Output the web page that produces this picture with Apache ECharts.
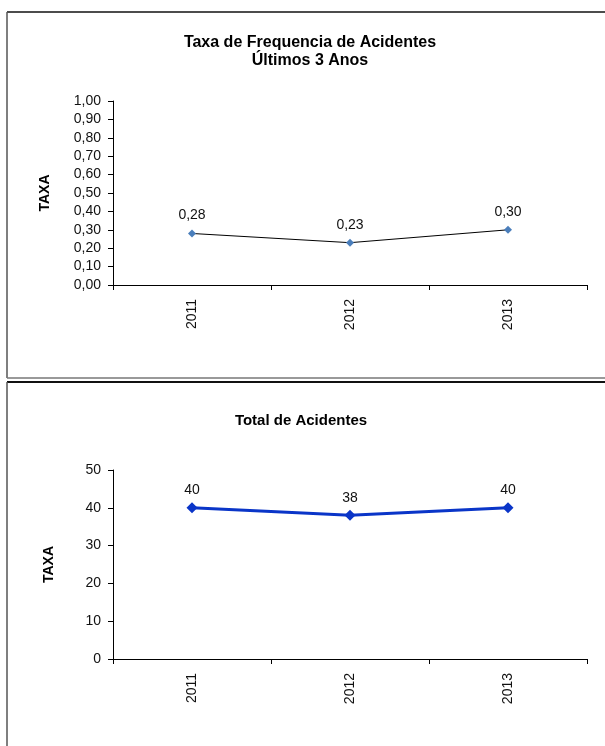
<!DOCTYPE html>
<html>
<head>
<meta charset="utf-8">
<script src="https://cdn.jsdelivr.net/npm/echarts@6/dist/echarts.min.js"></script>
<style>
  html, body { margin: 0; padding: 0; background: #fff; }
  #chart { width: 605px; height: 746px; }
</style>
</head>
<body>
<div id="chart"></div>
<script>
// Accident statistics for the last three years
const years = ['2011', '2012', '2013'];
const taxaFrequencia = [0.28, 0.23, 0.30];
const totalAcidentes = [40, 38, 40];
const taxaTicks = { min: 0, max: 1, interval: 0.1 };
const totalTicks = { min: 0, max: 50, interval: 10 };

const FONT = '"Liberation Sans", Arial, sans-serif';
const comma = v => v.toFixed(2).replace('.', ',');

const chart = echarts.init(document.getElementById('chart'), null, { renderer: 'canvas' });

const axisLine = { show: true, lineStyle: { color: '#000', width: 1 } };
const axisTick = { show: true, length: 5, lineStyle: { color: '#000', width: 1 } };

function catAxis(gridIndex) {
  return {
    type: 'category', gridIndex, data: years, boundaryGap: true,
    axisLine, axisTick,
    axisLabel: { rotate: 90, margin: 14, fontFamily: FONT, fontSize: 14, color: '#111' },
    splitLine: { show: false }
  };
}

function valAxis(gridIndex, ticks, fmt, gap) {
  return {
    type: 'value', gridIndex, min: ticks.min, max: ticks.max, interval: ticks.interval,
    axisLine, axisTick,
    axisLabel: { margin: 12, fontFamily: FONT, fontSize: 14, color: '#111', formatter: fmt },
    splitLine: { show: false },
    name: 'TAXA', nameLocation: 'middle', nameRotate: 90, nameGap: gap,
    nameTextStyle: { fontFamily: FONT, fontSize: 14, fontWeight: 'bold', color: '#000' }
  };
}

chart.setOption({
  animation: false,
  backgroundColor: '#fff',
  grid: [
    { left: 113, top: 101, width: 474, height: 184 },
    { left: 113, top: 470, width: 474, height: 189 }
  ],
  xAxis: [catAxis(0), catAxis(1)],
  yAxis: [
    valAxis(0, taxaTicks, v => comma(v), 61),
    valAxis(1, totalTicks, v => String(v), 57)
  ],
  series: [
    {
      type: 'line', xAxisIndex: 0, yAxisIndex: 0, data: taxaFrequencia,
      symbol: 'diamond', symbolSize: 8,
      lineStyle: { color: '#000', width: 1 },
      itemStyle: { color: '#4A7EBB' },
      label: { show: true, position: 'top', distance: 7, fontFamily: FONT, fontSize: 14,
               color: '#111', formatter: p => comma(p.value) }
    },
    {
      type: 'line', xAxisIndex: 1, yAxisIndex: 1, data: totalAcidentes,
      symbol: 'diamond', symbolSize: 11,
      lineStyle: { color: '#0A35C8', width: 3 },
      itemStyle: { color: '#0A35C8' },
      label: { show: true, position: 'top', distance: 5, fontFamily: FONT, fontSize: 14,
               color: '#111' }
    }
  ],
  graphic: [
    // panel frames
    { type: 'line', shape: { x1: 7, y1: 12, x2: 605, y2: 12 }, style: { stroke: '#111', lineWidth: 1.5 } },
    { type: 'line', shape: { x1: 7, y1: 12, x2: 7, y2: 378 }, style: { stroke: '#555', lineWidth: 1.5 } },
    { type: 'line', shape: { x1: 7, y1: 378, x2: 605, y2: 378 }, style: { stroke: '#777', lineWidth: 1.5 } },
    { type: 'line', shape: { x1: 7, y1: 382, x2: 605, y2: 382 }, style: { stroke: '#111', lineWidth: 2 } },
    { type: 'line', shape: { x1: 7, y1: 382, x2: 7, y2: 746 }, style: { stroke: '#555', lineWidth: 1.5 } },
    // chart titles
    { type: 'text', x: 310, y: 34, style: {
        text: 'Taxa de Frequencia de Acidentes\nÚltimos 3 Anos', textAlign: 'center', textVerticalAlign: 'top',
        font: 'bold 16px ' + FONT, lineHeight: 18, fill: '#000' } },
    { type: 'text', x: 301, y: 413, style: {
        text: 'Total de Acidentes', textAlign: 'center', textVerticalAlign: 'top',
        font: 'bold 15px ' + FONT, fill: '#000' } }
  ]
});
</script>
</body>
</html>
